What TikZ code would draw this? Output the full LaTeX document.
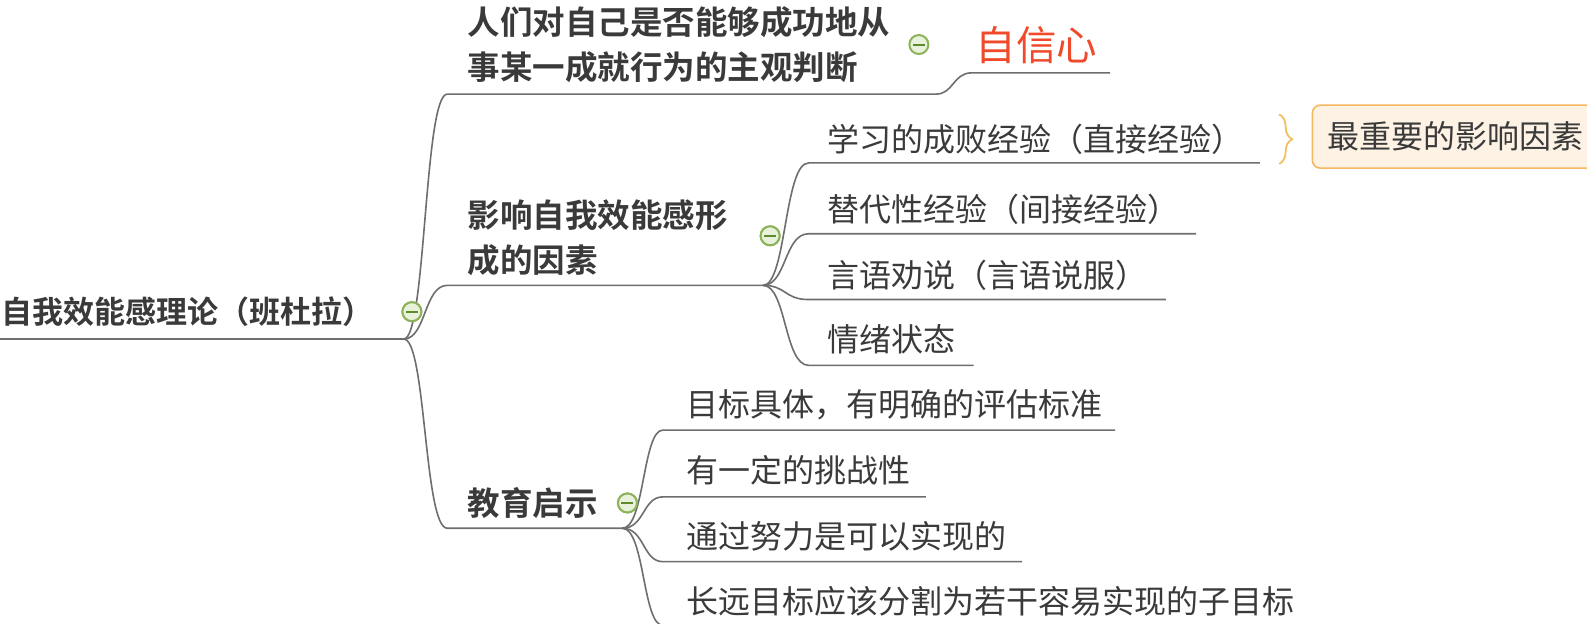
\documentclass[tikz,border=0pt]{standalone}
\usepackage{fontspec}
\setmainfont{Noto Sans CJK SC}[BoldFont={Noto Sans CJK SC Bold}]
\usetikzlibrary{decorations.pathreplacing}
\definecolor{txt}{HTML}{3A3A3A}
\definecolor{ln}{HTML}{6E6E6E}
\definecolor{cgreen}{HTML}{8DB35A}
\definecolor{cfill}{HTML}{E8F1DA}
\definecolor{cdark}{HTML}{5E8A2E}
\definecolor{redt}{HTML}{F04A2A}
\definecolor{obord}{HTML}{F5B860}
\definecolor{ofill}{HTML}{FDF2E4}
\definecolor{brc}{HTML}{F2C060}
\tikzset{
  lbl/.style={anchor=west,inner sep=0pt,text=txt},
  big/.style={lbl,font=\bfseries\fontsize{32.5}{44.5}\selectfont,align=left},
  leaf/.style={lbl,font=\fontsize{32}{36}\selectfont},
  conn/.style={draw=ln,line width=1.6pt},
  collapse/.style={circle,draw=cgreen,fill=cfill,line width=2pt,minimum size=19pt,inner sep=0pt,
    path picture={\draw[cdark,line width=2pt] ([xshift=-6pt]path picture bounding box.center) -- ([xshift=6pt]path picture bounding box.center);}}
}
\begin{document}
\begin{tikzpicture}[x=1.012pt,y=-1.012pt]
\useasboundingbox[fill=white] (0,0) rectangle (1568.2,616.6);
\clip (0,0) rectangle (1568.2,616.6);
% root
\node[lbl,font=\bfseries\fontsize{31}{36}\selectfont] (root) at (1,308) {自我效能感理论（班杜拉）};
\coordinate (r0) at (0,335); \coordinate (r1) at (399,335);
\draw[conn] (r0) -- (r1);
\node[collapse] (c0) at (407,308) {};
% branch 1
\node[big] (b1) at (462,44) {人们对自己是否能够成功地从\\事某一成就行为的主观判断};
\coordinate (b1s) at (442,93); \coordinate (b1e) at (925,93);
\node[collapse] (c1) at (908,44) {};
\node[lbl,text=redt,font=\fontsize{40.5}{44}\selectfont] (b1c) at (964,45) {自信心};
\coordinate (b1cs) at (960,72); \coordinate (b1ce) at (1097,72);
% branch 2
\node[big] (b2) at (462,235) {影响自我效能感形\\成的因素};
\coordinate (b2s) at (442,282); \coordinate (b2e) at (754,282);
\node[collapse] (c2) at (761,233) {};
\node[leaf] (l1) at (817,138) {学习的成败经验（直接经验）};
\node[leaf] (l2) at (817,207) {替代性经验（间接经验）};
\node[leaf] (l3) at (817,272) {言语劝说（言语说服）};
\node[leaf] (l4) at (817,335) {情绪状态};
\coordinate (l1s) at (799,161); \coordinate (l1e) at (1245,161);
\coordinate (l2s) at (799,231); \coordinate (l2e) at (1182,231);
\coordinate (l3s) at (799,296); \coordinate (l3e) at (1152,296);
\coordinate (l4s) at (799,361); \coordinate (l4e) at (962,361);
% brace + box
\coordinate (brt) at (1264,113); \coordinate (brb) at (1264,162);
\draw[brc,line width=1.8pt,decorate,decoration={brace,amplitude=13pt}] (brt) -- (brb);
\node[draw=obord,fill=ofill,line width=1.6pt,rounded corners=8pt,anchor=west,minimum height=63pt,
  minimum width=320pt,text width=290pt,inner sep=0pt,inner xsep=15pt,text=txt,font=\fontsize{32}{36}\selectfont] (imp) at (1296,135) {最重要的影响因素};
% branch 3
\node[big] (b3) at (462,497) {教育启示};
\coordinate (b3s) at (442,522); \coordinate (b3e) at (615,522);
\node[collapse] (c3) at (620,497) {};
\node[leaf] (m1) at (678,400) {目标具体，有明确的评估标准};
\node[leaf] (m2) at (678,465) {有一定的挑战性};
\node[leaf] (m3) at (678,530) {通过努力是可以实现的};
\node[leaf] (m4) at (678,594) {长远目标应该分割为若干容易实现的子目标};
\coordinate (m1s) at (655,425); \coordinate (m1e) at (1102,425);
\coordinate (m2s) at (655,491); \coordinate (m2e) at (915,491);
\coordinate (m3s) at (655,555); \coordinate (m3e) at (1010,555);
\coordinate (m4s) at (655,618); \coordinate (m4e) at (1276,618);
% connectors
\draw[conn] (r1) .. controls (421,335) and (419,93) .. (b1s) -- (b1e) .. controls (942,93) and (942,72) .. (b1cs) -- (b1ce);
\draw[conn] (r1) .. controls (421,335) and (419,282) .. (b2s) -- (b2e);
\draw[conn] (r1) .. controls (421,335) and (419,522) .. (b3s) -- (b3e);
\foreach \t in {l1,l2,l3,l4}{
  \draw[conn] (b2e) .. controls (777,282) and (775,0|-\t s) .. (\t s) -- (\t e);
}
\foreach \t in {m1,m2,m3,m4}{
  \draw[conn] (b3e) .. controls (637,522) and (635,0|-\t s) .. (\t s) -- (\t e);
}
\node[collapse] at (c0) {};
\node[collapse] at (c2) {};
\node[collapse] at (c3) {};
\end{tikzpicture}
\end{document}
